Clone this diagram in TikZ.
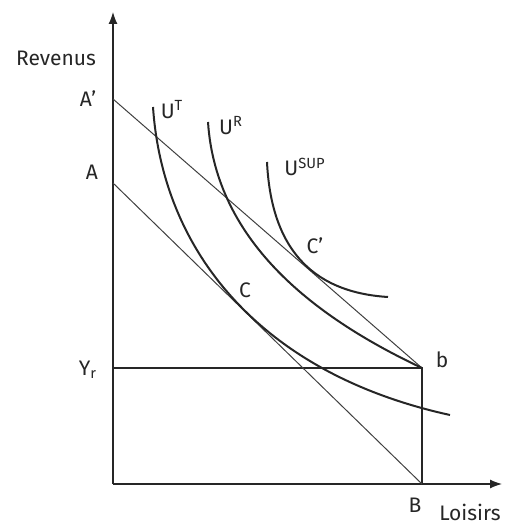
\documentclass[tikz,border=0pt]{standalone}
\usepackage{fontspec}
\setmainfont{Fira Sans}
\usetikzlibrary{arrows.meta}
\tikzset{
  axe/.style={-{Latex[length=6pt,width=4.5pt]},line width=0.6pt,black!85},
  budget/.style={line width=0.5pt,black!75},
  cadre/.style={line width=0.6pt,black!85},
  indiff/.style={line width=1pt,black!85},
  lbl/.style={font=\fontsize{10.5}{12}\selectfont,text=black!85,inner sep=0pt},
}

\begin{document}
\begin{tikzpicture}[x=0.5pt,y=0.5pt]
  \useasboundingbox (-113,-41) rectangle (391,484);

  % points
  \coordinate (O)     at (0,0);
  \coordinate (ytip)  at (0,472);
  \coordinate (xtip)  at (389,0);
  \coordinate (Ap)    at (0,385);
  \coordinate (A)     at (0,301);
  \coordinate (Yr)    at (0,116);
  \coordinate (B)     at (309,0);
  \coordinate (b)     at (309,116);

  % axes
  \draw[axe] (O) -- (ytip);
  \draw[axe] (O) -- (xtip);

  % revenu garanti
  \draw[cadre] (Yr) -- (b) -- (B);

  % droites de budget
  \draw[budget] (Ap) -- (b);
  \draw[budget] (A)  -- (B);

  % courbes d'indifference
  \draw[indiff] (40,377) .. controls (50,230) and (150,110) .. (337,69);
  \draw[indiff] (95,362) .. controls (103,240) and (205,165) .. (b);
  \draw[indiff] (154,322) .. controls (158,240) and (195,192) .. (275,187);

  % labels
  \node[lbl] (lrev)  at (-57,426) {Revenus};
  \node[lbl] (lAp)   at (-25,385) {A’};
  \node[lbl] (lA)    at (-21,312) {A};
  \node[lbl] (lYr)   at (-25,114) {Y\textsubscript{r}};
  \node[lbl] (lB)    at (302,-21) {B};
  \node[lbl] (lbb)   at (329,124) {b};
  \node[lbl] (lLois) at (357,-28) {Loisirs};
  \node[lbl] (lC)    at (132,194) {C};
  \node[lbl] (lCp)   at (202,238) {C’};
  \node[lbl] (lUT)   at (59,374)  {U\textsuperscript{T}};
  \node[lbl] (lUR)   at (118,358) {U\textsuperscript{R}};
  \node[lbl] (lUS)   at (192,317) {U\textsuperscript{SUP}};

\end{tikzpicture}
\end{document}
